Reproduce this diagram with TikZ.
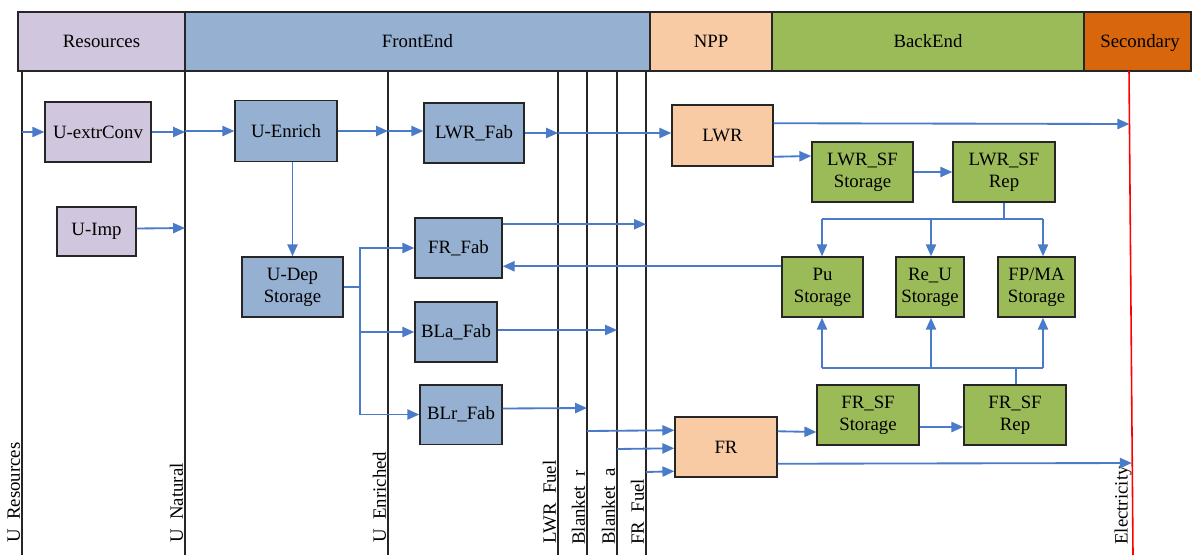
\documentclass[tikz,border=0pt]{standalone}
\usepackage{fontspec}
\setmainfont{Liberation Serif}
\usetikzlibrary{arrows.meta, calc}

\definecolor{resc}{HTML}{D0C6DD}
\definecolor{fec}{HTML}{95B0D0}
\definecolor{nppc}{HTML}{F8CBA5}
\definecolor{bec}{HTML}{9BBB59}
\definecolor{secc}{HTML}{D8660C}
\definecolor{flowblue}{HTML}{4A7BC8}
\definecolor{edge}{HTML}{262626}

\tikzset{
  box/.style={draw=edge, line width=1pt, fill=#1, minimum height=34pt,
    inner sep=1pt, align=center},
  band/.style={draw=edge, line width=0.8pt},
  bandtext/.style={anchor=base, inner sep=0pt},
  stage/.style={draw=edge, line width=0.85pt},
  flowline/.style={draw=flowblue, line width=1.05pt},
  flow/.style={flowline, -{Triangle[length=6.8pt,width=5.8pt]}},
  vlabel/.style={rotate=90, anchor=base west, inner sep=0pt}
}

\begin{document}
\begin{tikzpicture}[x=0.02cm, y=-0.02cm, font=\fontsize{10.7}{12.5}\selectfont]
\useasboundingbox (0,0) rectangle (1192,555);

% header bands
\filldraw[band, fill=resc] (18,12) rectangle (185,71);
\filldraw[band, fill=fec] (185,12) rectangle (650,71);
\filldraw[band, fill=nppc] (650,12) rectangle (772,71);
\filldraw[band, fill=bec] (772,12) rectangle (1084,71);
\filldraw[band, fill=secc] (1084,12) rectangle (1191,71);
\node[bandtext] (hres) at (101.5,47) {Resources};
\node[bandtext] (hfe) at (417.5,47) {FrontEnd};
\node[bandtext] (hnpp) at (711,47) {NPP};
\node[bandtext] (hbe) at (928,47) {BackEnd};
\node[bandtext] (hsec) at (1140,47) {Secondary};

% stream labels
\node[vlabel] (tres) at (19.8,543) {U\_Resources};
\node[vlabel] (tnat) at (182.8,543) {U\_Natural};
\node[vlabel] (tenr) at (385.8,543) {U\_Enriched};
\node[vlabel] (tlwr) at (555.8,544) {LWR\_Fuel};
\node[vlabel] (tblr) at (584.8,545) {Blanket\_r};
\node[vlabel] (tbla) at (614.8,545) {Blanket\_a};
\node[vlabel] (tfrf) at (643.8,545) {FR\_Fuel};
\node[vlabel] (tel) at (1127.5,545) {Electricity};

% stage lines
\coordinate (lres) at (22,71);
\coordinate (lnat) at (185,71);
\coordinate (lenr) at (388,71);
\coordinate (llwr) at (558,71);
\coordinate (lblr) at (587,71);
\coordinate (lbla) at (617,71);
\coordinate (lfrf) at (646,71);
\coordinate (lel) at (1129,71);
\coordinate (lelb) at (1133,555);
\foreach \l in {lres, lnat, lenr, llwr, lblr, lbla, lfrf}
  \draw[stage] (\l) -- (\l |- lelb);
\draw[red, line width=0.9pt] (lel) -- (lelb);

% facilities
\node[box=resc, minimum width=60.1pt] (extr) at (98,132) {U-extrConv};
\node[box=resc, minimum width=44.8pt, minimum height=27.8pt] (imp) at (96.5,231.5) {U-Imp};
\node[box=fec, minimum width=57.8pt, minimum height=34.6pt] (enr) at (286,131) {U-Enrich};
\node[box=fec, minimum width=57.3pt] (dep) at (292.5,287) {U-Dep\\Storage};
\node[box=fec, minimum width=56.7pt] (lwrfab) at (474,133) {LWR\_Fab};
\node[box=fec, minimum width=49.3pt] (frfab) at (458.5,248) {FR\_Fab};
\node[box=fec, minimum width=46.5pt] (blafab) at (456,332) {BLa\_Fab};
\node[box=fec, minimum width=46.5pt] (blrfab) at (461,414.5) {BLr\_Fab};
\node[box=nppc, minimum width=57.3pt, minimum height=34.6pt] (lwr) at (722.5,135.5) {LWR};
\node[box=nppc, minimum width=57.8pt] (fr) at (726,447) {FR};
\node[box=bec, minimum width=57.3pt] (lwrsf) at (862.5,172) {LWR\_SF\\Storage};
\node[box=bec, minimum width=57.8pt] (lwrrep) at (1004,172) {LWR\_SF\\Rep};
\node[box=bec, minimum width=45.9pt] (pu) at (822.5,287) {Pu\\Storage};
\node[box=bec, minimum width=38.5pt] (reu) at (930,287) {Re\_U\\Storage};
\node[box=bec, minimum width=43.7pt] (fpma) at (1036.5,287) {FP/MA\\Storage};
\node[box=bec, minimum width=57.8pt] (frsf) at (868,415) {FR\_SF\\Storage};
\node[box=bec, minimum width=57.8pt] (frrep) at (1015,415) {FR\_SF\\Rep};

% front end flows
\draw[flow] (lres |- extr.west) -- (extr.west);
\draw[flow] (extr.east) -- (extr.east -| lnat);
\draw[flow] (lnat |- enr.west) -- (enr.west);
\draw[flow] (imp.east) ++(0,-3) -- (lnat |- 0,228);
\draw[flow] (enr.east) -- (enr.east -| lenr);
\draw[flow] (lenr |- enr.east) -- (lwrfab.west |- enr.east);
\draw[flow] (dep.north |- enr.south) -- (dep.north);
\draw[flow] (lwrfab.east) -- (lwrfab.east -| llwr);
\draw[flow] (llwr |- lwrfab.east) -- (lwr.west |- lwrfab.east);

\coordinate (split) at (360,287);
\draw[flowline] (dep.east) -- (split);
\draw[flow] (split) |- (frfab.west);
\draw[flow] (split) |- (blafab.west);
\draw[flow] (split) |- (blrfab.west);

\coordinate (frout) at ($(frfab.north east)+(0,7)$);
\draw[flow] (frout) -- (frout -| lfrf);
\coordinate (puout) at ($(pu.north west)+(0,10)$);
\draw[flow] (puout) -- (puout -| frfab.east);
\draw[flow] ($(blafab.east)+(0,-2)$) -- (lbla |- 0,330);
\draw[flow] ($(blrfab.east)+(0,-6)$) -- (lblr |- 0,408);

% reactor feeds
\foreach \l/\d in {lblr/14, lbla/32, lfrf/55}
  \draw[flow] (\l |- 0,417+\d) -- ($(fr.north west)+(0,\d)$);

% reactor outputs
\draw[flow] ($(lwr.north east)+(0,19)$) -- (1129.4,124);
\draw[flow] ($(lwr.south east)+(0,-10)$) -- (lwrsf.west |- 0,156);
\draw[flow] (lwrsf.east) -- (lwrrep.west);
\draw[flow] ($(fr.north east)+(0,15)$) -- (frsf.west |- 0,432);
\draw[flow] ($(frsf.east)+(0,12)$) -- (frrep.west |- 0,427);
\draw[flow] ($(fr.south east)+(0,-14)$) -- (1131.8,463);

% reprocessing splits
\draw[flowline] (lwrrep.south) -- (lwrrep.south |- 0,219);
\draw[flowline] (822,219) -- (1043,219);
\draw[flowline] (frrep.north) ++(1,0) -- (1016,368);
\draw[flowline] (822,368) -- (1043,368);
\foreach \t/\x in {pu/822, reu/931, fpma/1043} {
  \draw[flow] (\x,219) -- (\x,0 |- \t.north);
  \draw[flow] (\x,368) -- (\x,0 |- \t.south);
}

\end{tikzpicture}
\end{document}
